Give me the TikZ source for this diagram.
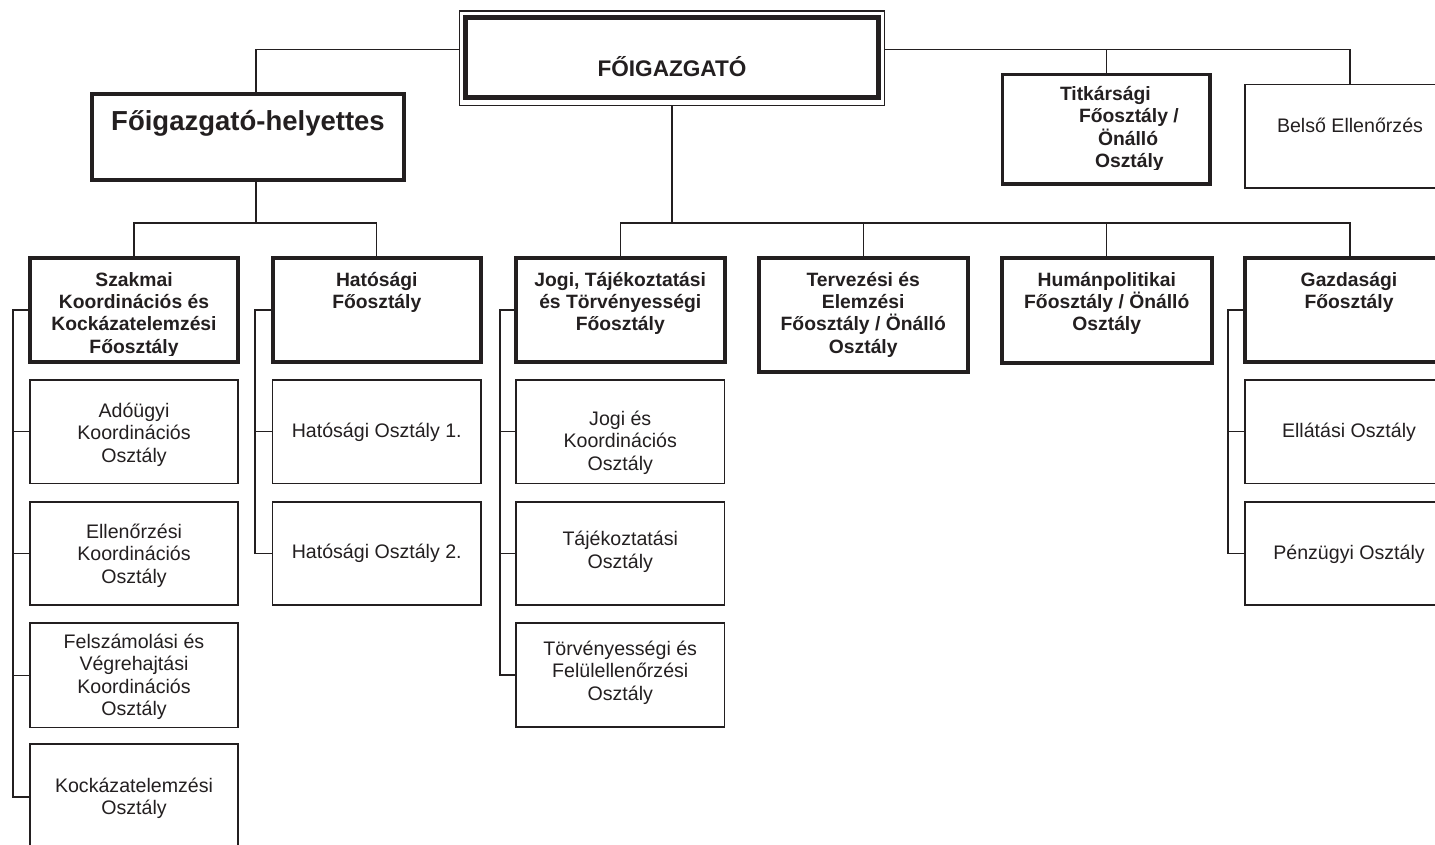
\documentclass[tikz,border=0pt]{standalone}
\usepackage{fontspec}
\setmainfont{Liberation Sans}
\definecolor{ink}{HTML}{231F20}
% invisible strut that fixes the height of a first text line
\newcommand\lnup{\rule{0pt}{17pt}}
% \orgbox{name}{style}{x1}{y1}{x2}{y2}: empty box node spanning the given corners
\newcommand\orgbox[6]{\node[#2,minimum width={(#5-#3)*1pt},minimum height={(#6-#4)*1pt}] (#1) at ({(#3+#5)/2},{(#4+#6)/2}) {};}
\begin{document}
\begin{tikzpicture}[x=1pt,y=-1pt,
  boxbase/.style={rectangle,inner sep=0pt,outer sep=0pt,draw=ink},
  headbox/.style={boxbase,line width=4pt},
  unitbox/.style={boxbase,line width=1.5pt},
  wire/.style={draw=ink,line width=1.3pt},
  hd/.style={inner sep=0pt,outer sep=0pt,align=center,anchor=north,text=ink,
             font=\bfseries\fontsize{19.3}{22.4}\selectfont},
  rg/.style={inner sep=0pt,outer sep=0pt,align=center,anchor=north,text=ink,
             font=\fontsize{19.6}{22.5}\selectfont},
  rgline/.style={rg,anchor=base}]
\useasboundingbox (0,0) rectangle (1435,844);
\clip (0,0) rectangle (1435,844);

% ---- boxes ----
\orgbox{fo}{unitbox}{459.5}{11}{884.5}{105.5}
\orgbox{foin}{boxbase,line width=5pt}{465.5}{17.5}{878.5}{97.5}
\orgbox{fh}{headbox}{92}{94}{404}{180}
\orgbox{tk}{boxbase,line width=3.5pt}{1002.5}{74.5}{1210}{184}
\orgbox{be}{unitbox}{1245}{84.5}{1455}{188}

\orgbox{sz}{headbox}{30}{258}{238}{362}
\orgbox{ha}{headbox}{272.5}{258}{481}{362}
\orgbox{jo}{headbox}{516}{258}{724.5}{362}
\orgbox{te}{headbox}{758.5}{258}{968}{372}
\orgbox{hu}{headbox}{1002}{258}{1211.5}{363}
\orgbox{ga}{headbox}{1245}{258}{1455}{362}

\orgbox{sz1}{unitbox}{30}{380}{238}{483.5}
\orgbox{sz2}{unitbox}{30}{502}{238}{605}
\orgbox{sz3}{unitbox}{30}{623}{238}{727.5}
\orgbox{sz4}{unitbox}{30}{744}{238}{850}
\orgbox{ha1}{unitbox}{272.5}{380}{481}{483.5}
\orgbox{ha2}{unitbox}{272.5}{502}{481}{605}
\orgbox{jo1}{unitbox}{516}{380}{724.5}{483.5}
\orgbox{jo2}{unitbox}{516}{502}{724.5}{605}
\orgbox{jo3}{unitbox}{516}{623}{724.5}{727}
\orgbox{ga1}{unitbox}{1245}{380}{1455}{483.5}
\orgbox{ga2}{unitbox}{1245}{502}{1455}{605}

% ---- connectors ----
\coordinate (topbar) at (0,49.5);
\coordinate (midbar) at (0,223);
\coordinate (fhx) at (256,0);
\coordinate (szx) at (13,0);
\coordinate (hax) at (255,0);
\coordinate (jox) at (500,0);
\coordinate (gax) at (1228,0);

\draw[wire] (fo.west |- topbar) -| (fhx |- fh.north);
\draw[wire] (fo.east |- topbar) -| (be.north);
\draw[wire] (tk.north |- topbar) -- (tk.north);
\draw[wire] (fo.south) -- (fo.south |- midbar);
\draw[wire] (jo.north) |- (ga.north |- midbar) -- (ga.north);
\draw[wire] (te.north) -- (te.north |- midbar);
\draw[wire] (hu.north) -- (hu.north |- midbar);
\draw[wire] (fhx |- fh.south) -- (fhx |- midbar);
\draw[wire] (sz.north) |- (ha.north |- midbar) -- (ha.north);

\draw[wire] (sz.west) -- (sz.west -| szx) -- (sz4.west -| szx) -- (sz4.west);
\foreach \b in {sz1,sz2,sz3} \draw[wire] (\b.west) -- (\b.west -| szx);
\draw[wire] (ha.west) -- (ha.west -| hax) -- (ha2.west -| hax) -- (ha2.west);
\draw[wire] (ha1.west) -- (ha1.west -| hax);
\draw[wire] (jo.west) -- (jo.west -| jox) -- (jo3.west -| jox) -- (jo3.west);
\foreach \b in {jo1,jo2} \draw[wire] (\b.west) -- (\b.west -| jox);
\draw[wire] (ga.west) -- (ga.west -| gax) -- (ga2.west -| gax) -- (ga2.west);
\draw[wire] (ga1.west) -- (ga1.west -| gax);

% redraw box outlines over the connector ends
\foreach \b in {fh,sz,ha,jo,te,hu,ga}
  \draw[ink,line width=4pt] (\b.north west) rectangle (\b.south east);
\draw[ink,line width=3.5pt] (tk.north west) rectangle (tk.south east);
\foreach \b in {sz1,sz2,sz3,sz4,ha1,ha2,jo1,jo2,jo3,ga1,ga2,be,fo}
  \draw[ink,line width=1.5pt] (\b.north west) rectangle (\b.south east);

% ---- texts ----
\node[rgline,font=\bfseries\fontsize{22.6}{26}\selectfont] (fo-t) at (672,76) {FŐIGAZGATÓ};
\node[rgline,font=\bfseries\fontsize{27.5}{31}\selectfont] (fh-t) at (248,130) {Főigazgató-helyettes};
\node[rgline] (be-t) at (1350,132) {Belső Ellenőrzés};

\begin{scope}
  \clip (1003,76) rectangle (1209,169.5);
  \node[hd,align=left,anchor=north west] (tk-t) at (1060,83.5)
    {\lnup Titkársági\\\hspace*{19pt}Főosztály /\\\hspace*{38pt}Önálló\\\hspace*{35pt}Osztály};
\end{scope}

\begin{scope}
  \clip (32,260) rectangle (236,355.5);
  \node[hd] (sz-t) at (134,269) {\lnup Szakmai\\Koordinációs és\\Kockázatelemzési\\Főosztály};
\end{scope}
\node[hd] (ha-t) at (376.75,269) {\lnup Hatósági\\Főosztály};
\node[hd] (jo-t) at (620.25,269) {\lnup Jogi, Tájékoztatási\\és Törvényességi\\Főosztály};
\node[hd] (te-t) at (863.25,269) {\lnup Tervezési és\\Elemzési\\Főosztály / Önálló\\Osztály};
\node[hd] (hu-t) at (1106.75,269) {\lnup Humánpolitikai\\Főosztály / Önálló\\Osztály};
\node[hd] (ga-t) at (1349,269) {\lnup Gazdasági\\Főosztály};

\node[rg] (sz1-t) at (134,400) {\lnup Adóügyi\\Koordinációs\\Osztály};
\node[rg] (sz2-t) at (134,521) {\lnup Ellenőrzési\\Koordinációs\\Osztály};
\node[rg] (sz3-t) at (134,631) {\lnup Felszámolási és\\Végrehajtási\\Koordinációs\\Osztály};
\node[rg] (sz4-t) at (134,775) {\lnup Kockázatelemzési\\Osztály};
\node[rgline] (ha1-t) at (376.75,437) {Hatósági Osztály 1.};
\node[rgline] (ha2-t) at (376.75,558.5) {Hatósági Osztály 2.};
\node[rg] (jo1-t) at (620.25,408) {\lnup Jogi és\\Koordinációs\\Osztály};
\node[rg] (jo2-t) at (620.25,528.5) {\lnup Tájékoztatási\\Osztály};
\node[rg] (jo3-t) at (620.25,638) {\lnup Törvényességi és\\Felülellenőrzési\\Osztály};
\node[rgline] (ga1-t) at (1349,437.5) {Ellátási Osztály};
\node[rgline] (ga2-t) at (1349,559) {Pénzügyi Osztály};
\end{tikzpicture}
\end{document}
